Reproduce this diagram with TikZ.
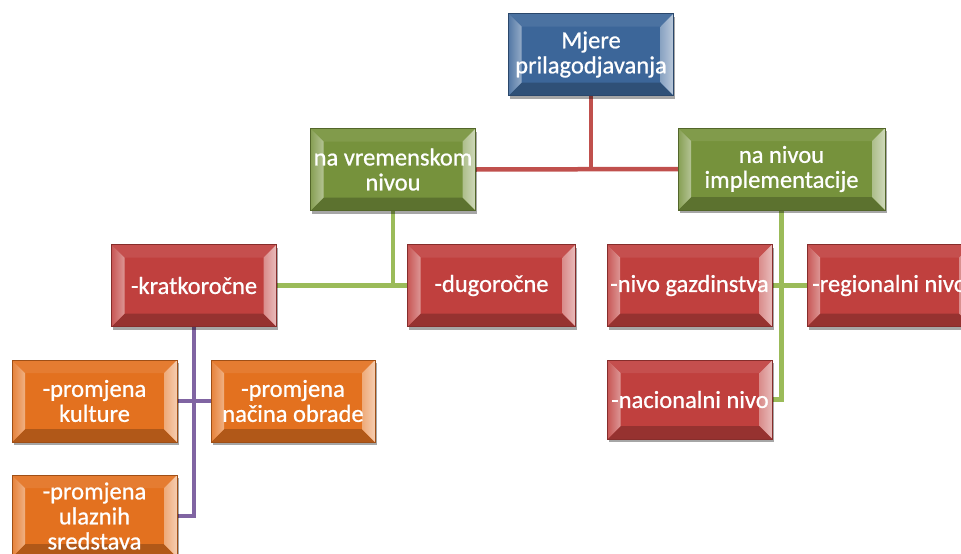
\documentclass[tikz,border=0pt]{standalone}
\usepackage{fontspec}
\setmainfont{Carlito}[FakeBold=0.8]
\usetikzlibrary{shadows,backgrounds}
\definecolor{blueB}{HTML}{3C6699}
\definecolor{greenB}{HTML}{76923C}
\definecolor{redB}{HTML}{C0403E}
\definecolor{orangeB}{HTML}{E3711F}
\definecolor{redL}{HTML}{C0504D}
\definecolor{greenL}{HTML}{9BBB59}
\definecolor{purpleL}{HTML}{8064A2}
\newcommand\bxfont{\fontsize{24.5pt}{25pt}\selectfont}
\tikzset{
  bevbox/.style={draw=#1!70!black, line width=0.5pt, fill=#1,
    minimum width=165pt, minimum height=82pt, text=white, font=\bxfont,
    align=center, inner sep=0pt,
    drop shadow={shadow xshift=1.5pt, shadow yshift=-3pt, opacity=.35, fill=black},
    path picture={
      \coordinate (pA) at (path picture bounding box.north west);
      \coordinate (pB) at (path picture bounding box.north east);
      \coordinate (pC) at (path picture bounding box.south east);
      \coordinate (pD) at (path picture bounding box.south west);
      \coordinate (pa) at ([xshift=13pt,yshift=-13pt]pA);
      \coordinate (pb) at ([xshift=-13pt,yshift=-13pt]pB);
      \coordinate (pc) at ([xshift=-13pt,yshift=13pt]pC);
      \coordinate (pd) at ([xshift=13pt,yshift=13pt]pD);
      \fill[#1!92!white] (pA)--(pB)--(pb)--(pa)--cycle;
      \fill[#1!78!black] (pD)--(pC)--(pc)--(pd)--cycle;
      \fill[left color=#1!88!white, right color=#1!55!white] (pA)--(pa)--(pd)--(pD)--cycle;
      \fill[left color=#1!60!white, right color=#1!35!white] (pB)--(pb)--(pc)--(pC)--cycle;
    }},
  conn/.style={line width=4.5pt, line cap=butt}
}
\begin{document}
\begin{tikzpicture}[x=1pt,y=-1pt]
\useasboundingbox (0,0) rectangle (961,554);
\node[bevbox=blueB]   (top)  at (591,54.5)  {Mjere\\prilagodjavanja};
\node[bevbox=greenB]  (vrem) at (393,169.5) {na vremenskom\\nivou};
\node[bevbox=greenB, minimum width=207pt] (impl) at (781.5,169) {na nivou\\implementacije};
\node[bevbox=redB]    (krat) at (194,285.5) {-kratkoročne};
\node[bevbox=redB, minimum width=168pt] (dugo) at (491.5,285.5) {-dugoročne};
\node[bevbox=redB]    (gazd) at (689.5,285.5) {-nivo gazdinstva};
\node[bevbox=redB]    (reg)  at (889.5,285.5) {-regionalni nivo};
\node[bevbox=redB, minimum height=79pt] (nac) at (690,399.5) {-nacionalni nivo};
\node[bevbox=orangeB] (kult) at (94.5,401)  {-promjena\\kulture};
\node[bevbox=orangeB, minimum width=164pt] (obr) at (293,401) {-promjena\\načina obrade};
\node[bevbox=orangeB] (sred) at (94.5,516)  {-promjena\\ulaznih\\sredstava};
\begin{scope}[on background layer]
\draw[conn, redL] (vrem.east) -- (impl.west);
\draw[conn, redL] (top.south) -- (top.south |- impl.west);
\draw[conn, greenL] (krat.east) -- (dugo.west);
\draw[conn, greenL] (vrem.south) -- (vrem.south |- krat.east);
\draw[conn, greenL] (gazd.east) -- (reg.west);
\draw[conn, greenL, line join=miter] (impl.south) |- (nac.east);
\draw[conn, purpleL] (kult.east) -- (obr.west);
\draw[conn, purpleL, line join=miter] (krat.south) |- (sred.east);
\end{scope}
\end{tikzpicture}
\end{document}
